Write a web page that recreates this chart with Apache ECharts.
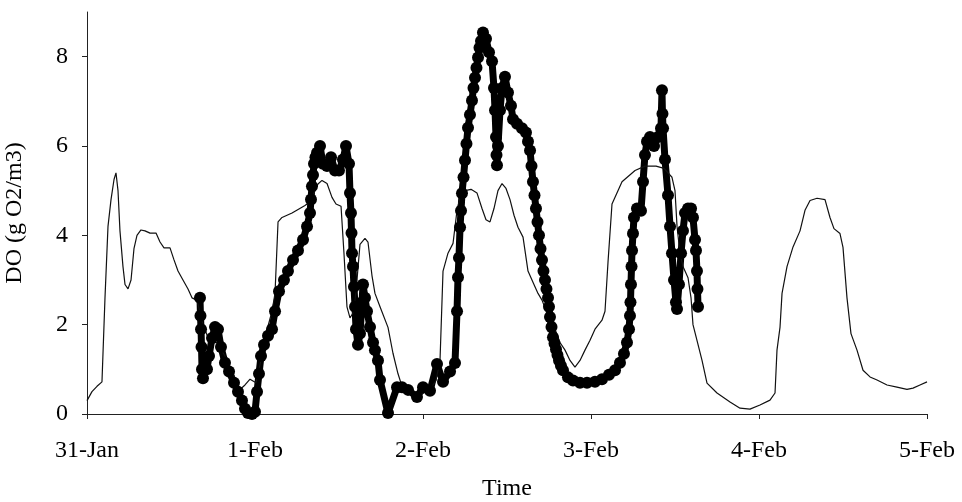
<!DOCTYPE html>
<html>
<head>
<meta charset="utf-8">
<script src="https://cdn.jsdelivr.net/npm/echarts@6/dist/echarts.min.js"></script>
<style>
  html, body { margin: 0; padding: 0; background: #fff; }
  #chart { width: 962px; height: 502px; }
</style>
</head>
<body>
<div id="chart"></div>
<script>
// x axis: hours since 31-Jan 00:00
var xLabels = ['31-Jan', '1-Feb', '2-Feb', '3-Feb', '4-Feb', '5-Feb'];
var yTicks = [0, 2, 4, 6, 8];

// thin line (model)
var modelHours = [0.00, 0.71, 1.43, 2.14, 2.57, 3.00, 3.43, 3.86, 4.14, 4.43, 4.71, 5.14, 5.43, 5.86, 6.29, 6.71,
	7.14, 7.71, 8.29, 9.00, 9.86, 10.43, 11.00, 11.86, 12.43, 13.00, 13.71, 14.43, 15.00, 15.71, 16.57, 17.57,
	18.57, 19.71, 20.86, 21.86, 22.57, 23.29, 24.14, 25.00, 25.71, 26.43, 26.86, 27.29, 27.86, 29.29, 31.14, 31.86,
	32.43, 33.00, 33.57, 34.29, 35.00, 35.57, 36.29, 36.71, 37.14, 37.57, 38.14, 38.57, 39.00, 39.71, 40.14, 40.71,
	41.14, 41.86, 43.00, 43.71, 44.43, 45.14, 46.43, 47.86, 49.00, 49.86, 50.43, 50.86, 51.57, 52.29, 52.86, 53.29,
	54.00, 54.86, 55.71, 56.43, 57.00, 57.57, 58.14, 58.71, 59.29, 59.86, 60.43, 61.00, 61.57, 62.29, 63.00, 63.71,
	64.43, 65.00, 65.86, 66.86, 67.57, 68.29, 69.00, 69.71, 70.43, 71.14, 71.86, 72.57, 73.57, 74.00, 74.43, 75.00,
	76.43, 78.29, 79.71, 81.29, 82.43, 83.57, 84.00, 84.29, 84.71, 85.14, 85.86, 86.29, 86.57, 87.14, 87.86, 88.57,
	90.00, 91.86, 93.29, 94.71, 96.14, 97.57, 98.29, 98.57, 99.00, 99.29, 100.00, 100.86, 101.86, 102.57, 103.29, 104.29,
	105.43, 106.14, 106.71, 107.57, 108.00, 108.57, 109.14, 110.00, 110.86, 111.86, 112.86, 114.29, 115.71, 117.14, 118.00, 119.00,
	120.00];
var modelValues = [0.3, 0.5, 0.62, 0.72, 2.6, 4.2, 4.8, 5.25, 5.4, 5.0, 4.1, 3.3, 2.9, 2.8, 3.0, 3.7,
	4.0, 4.12, 4.1, 4.05, 4.05, 3.85, 3.72, 3.72, 3.45, 3.2, 3.0, 2.8, 2.6, 2.55, 2.0, 1.6,
	1.6, 1.3, 0.9, 0.55, 0.65, 0.78, 0.7, 1.3, 1.88, 2.3, 2.7, 4.3, 4.4, 4.5, 4.67, 4.75,
	4.95, 5.15, 5.23, 5.16, 4.85, 4.7, 4.65, 3.6, 2.4, 2.15, 2.3, 3.0, 3.8, 3.93, 3.85, 3.1,
	2.7, 2.4, 1.94, 1.36, 0.9, 0.55, 0.5, 0.45, 0.55, 0.75, 1.2, 3.2, 3.6, 3.82, 4.56, 4.85,
	5.0, 5.03, 4.95, 4.6, 4.35, 4.3, 4.6, 5.0, 5.16, 5.05, 4.8, 4.45, 4.18, 3.96, 3.2, 2.95,
	2.7, 2.55, 2.2, 1.9, 1.6, 1.43, 1.2, 1.05, 1.2, 1.43, 1.65, 1.9, 2.1, 2.3, 3.4, 4.7,
	5.2, 5.45, 5.55, 5.55, 5.5, 5.3, 5.0, 4.2, 3.6, 3.3, 3.05, 2.6, 2.0, 1.65, 1.2, 0.69,
	0.47, 0.27, 0.13, 0.11, 0.2, 0.31, 0.47, 1.43, 1.94, 2.7, 3.3, 3.74, 4.1, 4.56, 4.78, 4.83,
	4.8, 4.4, 4.15, 4.04, 3.73, 2.6, 1.8, 1.43, 0.98, 0.83, 0.76, 0.65, 0.6, 0.55, 0.58, 0.65,
	0.72];

// dotted series (measured)
var measHours = [16.14, 16.21, 16.29, 16.36, 16.43, 16.57, 16.86, 17.14, 17.43, 17.86, 18.29, 18.71, 19.14, 19.71, 20.29, 21.00,
	21.57, 22.14, 22.57, 23.00, 23.57, 24.00, 24.29, 24.57, 24.86, 25.29, 25.86, 26.43, 26.86, 27.43, 28.14, 28.71,
	29.43, 30.14, 30.86, 31.43, 31.86, 32.00, 32.14, 32.29, 32.43, 32.64, 32.86, 33.29, 33.71, 34.29, 34.86, 35.43,
	36.00, 36.57, 37.00, 37.43, 37.57, 37.71, 37.79, 37.86, 38.00, 38.14, 38.29, 38.43, 38.71, 39.00, 39.29, 39.43,
	39.71, 40.00, 40.43, 40.86, 41.14, 41.57, 41.86, 43.00, 44.29, 45.00, 45.86, 47.14, 48.00, 49.00, 50.00, 50.86,
	51.86, 52.57, 52.86, 53.00, 53.14, 53.29, 53.43, 53.57, 53.79, 54.00, 54.21, 54.43, 54.71, 55.00, 55.21, 55.43,
	55.64, 55.86, 56.07, 56.29, 56.57, 57.00, 57.43, 57.86, 58.14, 58.29, 58.43, 58.50, 58.57, 58.71, 59.00, 59.29,
	59.71, 60.14, 60.57, 60.86, 61.43, 62.14, 62.71, 63.00, 63.29, 63.50, 63.71, 63.93, 64.14, 64.36, 64.57, 64.79,
	65.00, 65.21, 65.43, 65.64, 65.86, 66.00, 66.14, 66.36, 66.57, 66.79, 67.00, 67.21, 67.43, 67.71, 68.00, 68.71,
	69.43, 70.43, 71.43, 72.57, 73.57, 74.57, 75.43, 76.14, 76.71, 77.14, 77.43, 77.57, 77.64, 77.71, 77.79, 77.86,
	78.00, 78.14, 78.57, 79.14, 79.43, 79.71, 80.00, 80.43, 81.00, 81.57, 82.00, 82.14, 82.21, 82.29, 82.57, 83.00,
	83.29, 83.57, 83.86, 84.14, 84.29, 84.57, 84.86, 85.14, 85.43, 85.86, 86.29, 86.57, 86.86, 87.00, 87.14, 87.21,
	87.29];
var measValues = [2.6, 2.2, 1.9, 1.5, 1.0, 0.8, 1.2, 1.0, 1.3, 1.7, 1.95, 1.9, 1.5, 1.15, 0.95, 0.7,
	0.5, 0.3, 0.12, 0.02, 0.0, 0.05, 0.5, 0.9, 1.3, 1.55, 1.75, 1.9, 2.3, 2.75, 3.0, 3.2,
	3.45, 3.66, 3.9, 4.2, 4.5, 4.8, 5.1, 5.35, 5.6, 5.75, 5.85, 6.0, 5.6, 5.55, 5.75, 5.45,
	5.45, 5.7, 6.0, 5.6, 4.95, 4.5, 4.05, 3.6, 3.3, 2.85, 2.4, 1.9, 1.55, 1.8, 2.5, 2.9,
	2.6, 2.3, 1.95, 1.6, 1.43, 1.2, 0.76, 0.02, 0.6, 0.6, 0.54, 0.38, 0.6, 0.52, 1.12, 0.72,
	0.95, 1.14, 2.3, 3.06, 3.5, 4.18, 4.55, 4.94, 5.3, 5.68, 6.05, 6.41, 6.7, 7.02, 7.3, 7.53,
	7.75, 7.98, 8.2, 8.35, 8.54, 8.4, 8.1, 7.9, 7.3, 6.8, 6.2, 5.8, 5.57, 6.0, 6.8, 7.3,
	7.55, 7.2, 6.9, 6.6, 6.5, 6.4, 6.3, 6.1, 5.9, 5.55, 5.2, 4.9, 4.6, 4.3, 4.0, 3.7,
	3.45, 3.2, 3.0, 2.8, 2.6, 2.4, 2.17, 1.95, 1.72, 1.58, 1.45, 1.32, 1.2, 1.08, 0.98, 0.82,
	0.75, 0.7, 0.7, 0.72, 0.78, 0.88, 0.98, 1.15, 1.35, 1.6, 1.9, 2.2, 2.5, 2.9, 3.3, 3.66,
	4.04, 4.4, 4.6, 4.55, 5.2, 5.8, 6.1, 6.2, 6.0, 6.2, 6.4, 7.25, 6.72, 6.4, 5.7, 4.9,
	4.2, 3.6, 3.0, 2.5, 2.35, 2.9, 3.6, 4.1, 4.5, 4.6, 4.6, 4.4, 3.9, 3.66, 3.2, 2.8,
	2.4];

function pairs(xs, ys) {
	return xs.map(function (x, i) { return [x, ys[i]]; });
}

var textFont = {
	fontFamily: 'Liberation Serif',
	fontSize: 24,
	color: '#000'
};

var chart = echarts.init(document.getElementById('chart'));
chart.setOption({
	animation: false,
	grid: { left: 87, right: 35, top: 12, bottom: 88, containLabel: false, outerBoundsMode: 'none' },
	xAxis: {
		type: 'value',
		min: 0,
		max: 120,
		interval: 24,
		name: 'Time',
		nameLocation: 'middle',
		nameGap: 63,
		nameTextStyle: textFont,
		axisLine: { lineStyle: { color: '#222', width: 1 } },
		axisTick: { show: true, length: 5, lineStyle: { color: '#222' } },
		splitLine: { show: false },
		axisLabel: Object.assign({
			margin: 25,
			formatter: function (v) { return xLabels[Math.round(v / 24)]; }
		}, textFont)
	},
	yAxis: {
		type: 'value',
		min: 0,
		max: 9,
		name: 'DO (g O2/m3)',
		nameLocation: 'middle',
		nameGap: 60,
		nameTextStyle: textFont,
		axisLine: { show: true, lineStyle: { color: '#222', width: 1 } },
		axisTick: { show: true, length: 5, customValues: yTicks, lineStyle: { color: '#222' } },
		splitLine: { show: false },
		axisLabel: Object.assign({ margin: 19, customValues: yTicks }, textFont)
	},
	series: [
		{
			name: 'measured',
			type: 'line',
			data: pairs(measHours, measValues),
			symbol: 'circle',
			symbolSize: 12,
			showAllSymbol: true,
			lineStyle: { color: '#000', width: 7, cap: 'round', join: 'round' },
			itemStyle: { color: '#000' }
		},
		{
			name: 'model',
			type: 'line',
			data: pairs(modelHours, modelValues),
			showSymbol: false,
			lineStyle: { color: '#111', width: 1.2 },
			z: 3
		}
	]
});
</script>
</body>
</html>
